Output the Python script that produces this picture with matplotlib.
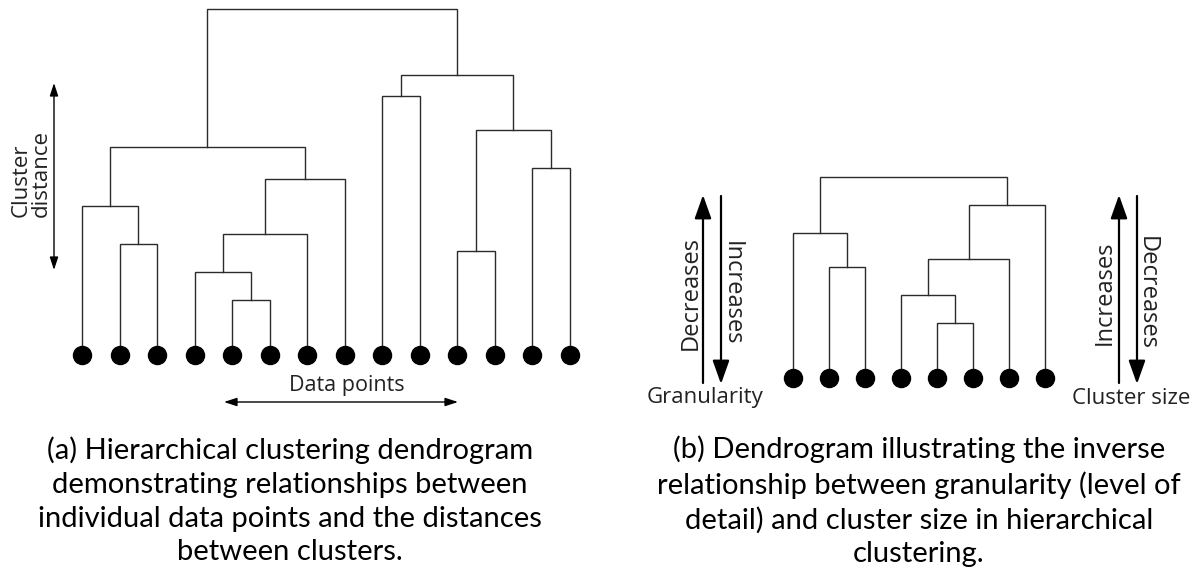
import matplotlib
matplotlib.use("Agg")
import matplotlib.pyplot as plt
from matplotlib.patches import FancyArrowPatch

# ---- data -------------------------------------------------------------
# Linkage rows: (left child, right child, merge distance); children < n are
# leaves, child n + k is the cluster formed by row k.
left_n_leaves = 14
left_merges = [
    (1, 2, 3.2),
    (0, 14, 4.3),
    (4, 5, 1.6),
    (3, 16, 2.4),
    (17, 6, 3.5),
    (18, 7, 5.1),
    (15, 19, 6.0),
    (8, 9, 7.5),
    (10, 11, 3.0),
    (12, 13, 5.4),
    (22, 23, 6.5),
    (21, 24, 8.1),
    (20, 25, 10.0),
]

right_n_leaves = 8
right_merges = [
    (1, 2, 3.2),
    (0, 8, 4.2),
    (4, 5, 1.6),
    (3, 10, 2.4),
    (11, 6, 3.45),
    (12, 7, 5.0),
    (9, 13, 5.8),
]

caption_a = ("(a) Hierarchical clustering dendrogram\n"
             "demonstrating relationships between\n"
             "individual data points and the distances\n"
             "between clusters.")
caption_b = ("(b) Dendrogram illustrating the inverse\n"
             "relationship between granularity (level of\n"
             "detail) and cluster size in hierarchical\n"
             "clustering.")

# ---- figure -----------------------------------------------------------
W, H = 1199, 575
fig = plt.figure(figsize=(W / 100, H / 100), dpi=100)
fig.patch.set_facecolor("white")

LINE = "#2b2b2b"
TEXT = "#222222"
LABEL_FONT = ["Open Sans", "DejaVu Sans"]
CAPTION_FONT = ["Lato", "DejaVu Sans"]
UNIT = 34.6  # pixels per unit of distance


def fx(x):
    return x / W


def fy(y_top):
    return 1 - y_top / H


def make_axes(leaf0_px, spacing_px, n, base_top_px, ymax):
    left = leaf0_px - 0.5 * spacing_px
    width = n * spacing_px
    bottom = (H - base_top_px) - UNIT
    height = (ymax + 1) * UNIT
    ax = fig.add_axes([left / W, bottom / H, width / W, height / H])
    ax.set_xlim(-0.5, n - 0.5)
    ax.set_ylim(-1, ymax)
    ax.axis("off")
    return ax


def draw_dendrogram(ax, n, merges):
    xs = {i: float(i) for i in range(n)}
    ys = {i: 0.0 for i in range(n)}
    for k, (a, b, h) in enumerate(merges):
        ax.plot([xs[a], xs[a], xs[b], xs[b]], [ys[a], h, h, ys[b]],
                color=LINE, lw=1.0, solid_joinstyle="miter", zorder=1)
        node = n + k
        xs[node] = (xs[a] + xs[b]) / 2
        ys[node] = h
    ax.plot(range(n), [0] * n, "o", color="black", ms=13, zorder=2)


def arrow(x0, y0, x1, y1, style, lw, ms):
    fig.add_artist(FancyArrowPatch((fx(x0), fy(y0)), (fx(x1), fy(y1)),
                                   transform=fig.transFigure,
                                   arrowstyle=style, mutation_scale=ms,
                                   lw=lw, color="black",
                                   shrinkA=0, shrinkB=0))


# left dendrogram
ax_a = make_axes(82, 37.5, left_n_leaves, 355, 10.6)
draw_dendrogram(ax_a, left_n_leaves, left_merges)

# right dendrogram
ax_b = make_axes(793, 36.0, right_n_leaves, 378, 6.5)
draw_dendrogram(ax_b, right_n_leaves, right_merges)

# ---- annotations, panel (a) ---------------------------------------------
thin_head = "<|-|>,head_length=0.55,head_width=0.18"
arrow(54, 270, 54, 83, thin_head, 1.0, 14)
fig.text(fx(31), fy(174), "Cluster\ndistance", rotation=90,
         ha="center", va="center", multialignment="left", fontsize=16,
         family=LABEL_FONT, color=TEXT, linespacing=0.92)

arrow(224, 402, 458, 402, thin_head, 1.0, 14)
fig.text(fx(347), fy(386), "Data points", ha="center", va="center",
         fontsize=15.5, family=LABEL_FONT, color=TEXT)

# ---- annotations, panel (b) ---------------------------------------------
big_head = "-|>,head_length=0.9,head_width=0.32"
arrow(703, 383, 703, 195, big_head, 1.6, 16)
arrow(721, 196, 721, 384, big_head, 1.6, 16)
fig.text(fx(691), fy(293), "Decreases", rotation=90, ha="center",
         va="center", fontsize=17, family=LABEL_FONT, color=TEXT)
fig.text(fx(732), fy(293), "Increases", rotation=270, ha="center",
         va="center", fontsize=17, family=LABEL_FONT, color=TEXT)
fig.text(fx(705), fy(398), "Granularity", ha="center", va="center",
         fontsize=16, family=LABEL_FONT, color=TEXT)

arrow(1119, 383, 1119, 195, big_head, 1.6, 16)
fig.text(fx(1105), fy(293), "Increases", rotation=90, ha="center",
         va="center", fontsize=17, family=LABEL_FONT, color=TEXT)
arrow(1137, 196, 1137, 384, big_head, 1.6, 16)
fig.text(fx(1147), fy(293), "Decreases", rotation=270, ha="center",
         va="center", fontsize=17, family=LABEL_FONT, color=TEXT)
fig.text(fx(1131), fy(398), "Cluster size", ha="center", va="center",
         fontsize=16, family=LABEL_FONT, color=TEXT)

# ---- captions -----------------------------------------------------------
fig.text(fx(290), fy(501), caption_a, ha="center", va="center",
         fontsize=21, family=CAPTION_FONT, color="black", linespacing=1.36)
fig.text(fx(919), fy(501), caption_b, ha="center", va="center",
         fontsize=21, family=CAPTION_FONT, color="black", linespacing=1.36)

fig.savefig("out.png", dpi=100, facecolor="white")
